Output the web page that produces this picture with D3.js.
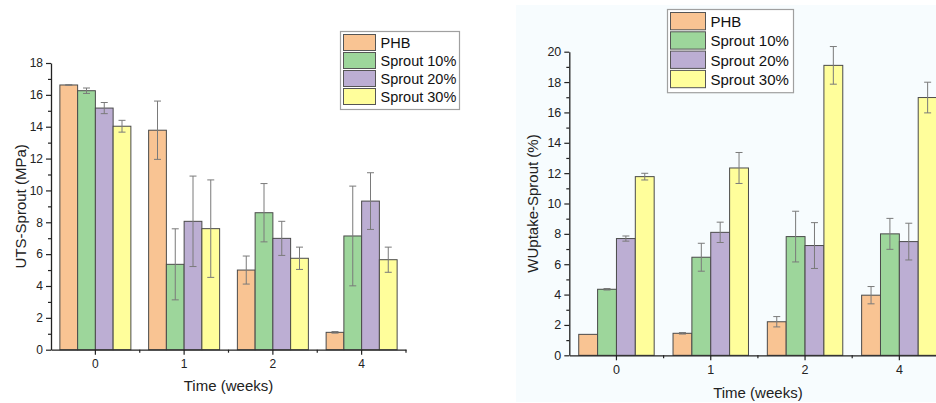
<!DOCTYPE html>
<html>
<head>
<meta charset="utf-8">
<script src="https://cdn.jsdelivr.net/npm/d3@7"></script>
<style>
  html, body { margin: 0; padding: 0; background: #ffffff; }
  svg { display: block; font-family: "Liberation Sans", Arial, sans-serif; }
</style>
</head>
<body>
<svg id="chart" width="936" height="403"></svg>
<script>
// Sampling times (weeks) and sample series
const weeks = ["0", "1", "2", "4"];
const seriesNames = ["PHB", "Sprout 10%", "Sprout 20%", "Sprout 30%"];
const seriesColors = ["#f9c493", "#9dd69b", "#bcaed3", "#fffe9b"];

// Ultimate tensile strength (MPa), mean and standard deviation, per series by week
const utsPHB   = [16.62, 13.78, 5.00, 1.09];
const uts10    = [16.26, 5.36, 8.60, 7.14];
const uts20    = [15.17, 8.06, 6.99, 9.33];
const uts30    = [14.03, 7.60, 5.74, 5.65];
const utsErrPHB = [0.02, 1.83, 0.88, 0.05];
const utsErr10  = [0.17, 2.23, 1.83, 3.13];
const utsErr20  = [0.35, 2.84, 1.07, 1.78];
const utsErr30  = [0.37, 3.06, 0.70, 0.79];

// Water uptake (%), mean and standard deviation, per series by week
const wuPHB   = [1.38, 1.45, 2.21, 3.96];
const wu10    = [4.35, 6.46, 7.82, 8.00];
const wu20    = [7.69, 8.10, 7.23, 7.49];
const wu30    = [11.77, 12.34, 19.10, 16.98];
const wuErrPHB = [0.0, 0.05, 0.34, 0.57];
const wuErr10  = [0.05, 0.92, 1.67, 1.02];
const wuErr20  = [0.17, 0.67, 1.51, 1.21];
const wuErr30  = [0.22, 1.02, 1.24, 1.01];

// Axis ticks
const utsTicks = [0, 2, 4, 6, 8, 10, 12, 14, 16, 18];
const wuTicks = [0, 2, 4, 6, 8, 10, 12, 14, 16, 18, 20];

const svg = d3.select("#chart");

// light backdrop behind the water uptake panel
svg.append("rect")
  .attr("x", 516).attr("y", 5).attr("width", 420).attr("height", 397)
  .attr("fill", "#f7fcfe");

function drawPanel(cfg) {
  const g = svg.append("g");
  const x = d3.scaleBand().domain(weeks).range([cfg.x0, cfg.x1]).padding(0);
  const inner = d3.scaleBand().domain(seriesNames)
    .range([x.bandwidth() * 0.1, x.bandwidth() * 0.9]).padding(0);
  const y = d3.scaleLinear().domain([0, cfg.yMax]).range([cfg.yBottom, cfg.yTop]);

  const rows = [];
  seriesNames.forEach((s, si) => {
    weeks.forEach((w, wi) => {
      rows.push({ s, si, w, v: cfg.values[si][wi], e: cfg.errors[si][wi] });
    });
  });

  // bars
  g.selectAll("rect.bar").data(rows).join("rect")
    .attr("class", "bar")
    .attr("x", d => x(d.w) + inner(d.s))
    .attr("y", d => y(d.v))
    .attr("width", inner.bandwidth())
    .attr("height", d => y(0) - y(d.v))
    .attr("fill", d => seriesColors[d.si])
    .attr("stroke", "#4a4a4a")
    .attr("stroke-width", 1);

  // error bars
  const eb = g.selectAll("g.err").data(rows.filter(d => d.e > 0)).join("g")
    .attr("class", "err")
    .attr("stroke", "#7a7a7a").attr("stroke-width", 1).attr("fill", "none");
  const cx = d => x(d.w) + inner(d.s) + inner.bandwidth() / 2;
  eb.append("line")
    .attr("x1", cx).attr("x2", cx)
    .attr("y1", d => y(d.v + d.e)).attr("y2", d => y(d.v - d.e));
  eb.append("line")
    .attr("x1", d => cx(d) - 3.5).attr("x2", d => cx(d) + 3.5)
    .attr("y1", d => y(d.v + d.e)).attr("y2", d => y(d.v + d.e));
  eb.append("line")
    .attr("x1", d => cx(d) - 3.5).attr("x2", d => cx(d) + 3.5)
    .attr("y1", d => y(d.v - d.e)).attr("y2", d => y(d.v - d.e));

  // y axis with major and minor ticks
  g.append("g").attr("transform", `translate(${cfg.x0},0)`)
    .call(d3.axisLeft(y).tickValues(cfg.ticks).tickSize(5).tickSizeOuter(0).tickPadding(3));
  const minors = d3.range(1, cfg.yMax, 2);
  g.append("g").attr("transform", `translate(${cfg.x0},0)`)
    .call(d3.axisLeft(y).tickValues(minors).tickSize(3).tickFormat(""))
    .call(a => a.select(".domain").remove());

  // x axis: labels at group centres, small ticks at group boundaries
  g.append("g").attr("transform", `translate(0,${cfg.yBottom})`)
    .call(d3.axisBottom(x).tickSize(5).tickSizeOuter(0).tickPadding(5));
  const bounds = weeks.map(w => x(w)).slice(1).concat([cfg.x1]);
  g.append("g").selectAll("line").data(bounds).join("line")
    .attr("x1", d => d).attr("x2", d => d)
    .attr("y1", cfg.yBottom).attr("y2", cfg.yBottom + 3)
    .attr("stroke", "#222").attr("stroke-width", 1.2);

  svg.selectAll(".domain").attr("stroke", "#222").attr("stroke-width", 1.3);
  g.selectAll(".tick line").attr("stroke", "#222").attr("stroke-width", 1.2);
  g.selectAll(".tick text").attr("font-size", cfg.tickFont).attr("fill", "#222")
    .style("font-family", "'Liberation Sans', Arial, sans-serif");

  // axis titles
  g.append("text")
    .attr("x", (cfg.x0 + cfg.xTitleEnd) / 2).attr("y", cfg.xTitleY)
    .attr("text-anchor", "middle").attr("font-size", 15).attr("fill", "#222")
    .text("Time (weeks)");
  g.append("text")
    .attr("transform", `translate(${cfg.yTitleX},${(cfg.yTop + cfg.yBottom) / 2}) rotate(-90)`)
    .attr("text-anchor", "middle").attr("font-size", 15).attr("fill", "#222")
    .text(cfg.yTitle);

  // legend
  const lg = g.append("g").attr("transform", `translate(${cfg.legX},${cfg.legY})`);
  lg.append("rect")
    .attr("x", 0).attr("y", 0).attr("width", cfg.legW).attr("height", cfg.legRow * 4 + 6)
    .attr("fill", "#ffffff").attr("stroke", "#a0a0a0").attr("stroke-width", 1.2);
  seriesNames.forEach((s, i) => {
    lg.append("rect")
      .attr("x", 3).attr("y", 3 + i * cfg.legRow)
      .attr("width", cfg.swW).attr("height", cfg.legRow - 2)
      .attr("fill", seriesColors[i]).attr("stroke", "#555").attr("stroke-width", 1);
    lg.append("text")
      .attr("x", cfg.swW + 8).attr("y", 3 + i * cfg.legRow + cfg.legRow / 2 + 1)
      .attr("dominant-baseline", "middle")
      .attr("font-size", cfg.legFont).attr("fill", "#111")
      .text(s);
  });
}

drawPanel({
  x0: 51, x1: 406, yTop: 63, yBottom: 349.7, yMax: 18, ticks: utsTicks, tickFont: 12,
  values: [utsPHB, uts10, uts20, uts30],
  errors: [utsErrPHB, utsErr10, utsErr20, utsErr30],
  yTitle: "UTS-Sprout (MPa)", yTitleX: 26, xTitleEnd: 406, xTitleY: 391,
  legX: 340.5, legY: 31.5, legW: 119, legRow: 18, swW: 32, legFont: 14.5
});

drawPanel({
  x0: 569.3, x1: 946.5, yTop: 51.7, yBottom: 355.3, yMax: 20, ticks: wuTicks, tickFont: 12.5,
  values: [wuPHB, wu10, wu20, wu30],
  errors: [wuErrPHB, wuErr10, wuErr20, wuErr30],
  yTitle: "WUptake-Sprout (%)", yTitleX: 538, xTitleEnd: 946.5, xTitleY: 398,
  legX: 667.5, legY: 9.5, legW: 126, legRow: 19.3, swW: 35, legFont: 15
});
</script>
</body>
</html>
